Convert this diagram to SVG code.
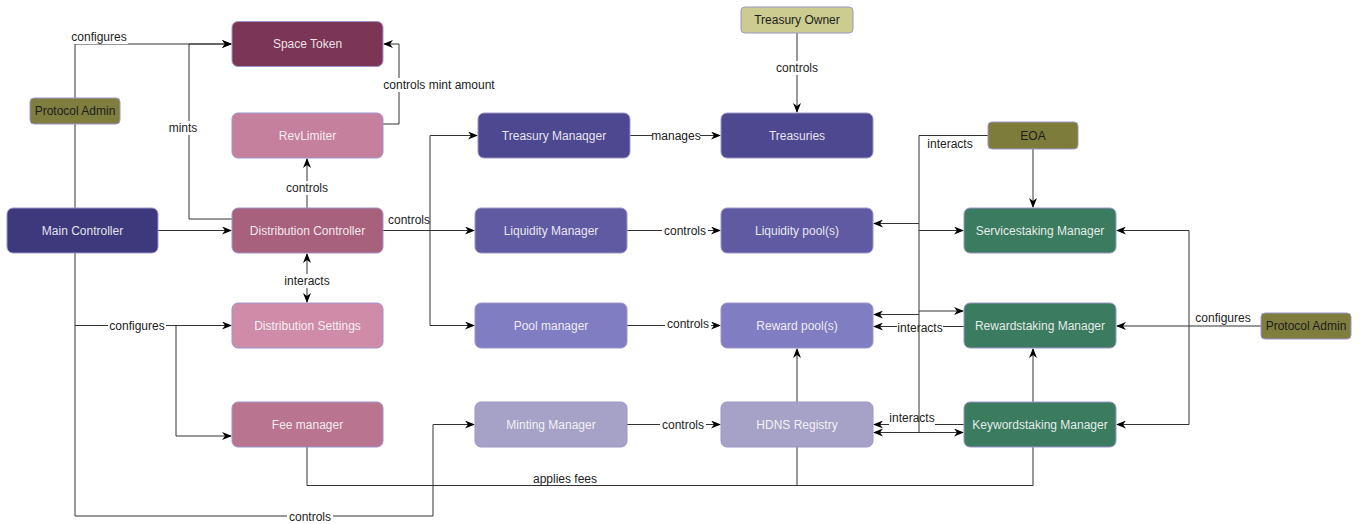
<svg xmlns="http://www.w3.org/2000/svg" width="1360" height="524" viewBox="0 0 1360 524">
<defs>
<marker id="arr" viewBox="0 0 10 8" refX="9" refY="4" markerWidth="10" markerHeight="8" markerUnits="userSpaceOnUse" orient="auto-start-reverse">
<path d="M0,0 L10,4 L0,8 L3,4 z" fill="#000"/>
</marker>
<style>
.n rect{stroke:#9d95c9;stroke-width:1}
.n text{font-family:"Liberation Sans",Arial,sans-serif;font-size:12px;fill:#fff;fill-opacity:.88;text-anchor:middle;dominant-baseline:central}
.n text.dk{fill:#1d1d1d;fill-opacity:1}
.c path{fill:none;stroke:#333;stroke-width:1}
.c path.a{marker-end:url(#arr)}
.c path.b{marker-start:url(#arr);marker-end:url(#arr)}
.l text{font-family:"Liberation Sans",Arial,sans-serif;font-size:12px;fill:#222;text-anchor:middle;dominant-baseline:central}
.l rect{fill:#fff}
</style>
</defs>
<rect width="1360" height="524" fill="#fff"/>
<g class="c" id="connectors">
<path class="a" d="M75,98 V44 H231"/>
<path d="M75,124 V208"/>
<path class="a" d="M158,230.5 H231"/>
<path class="a" d="M232,219 H189 V44 H231"/>
<path class="a" d="M383,124 H399 V44 H384"/>
<path class="a" d="M307,208 V159"/>
<path class="b" d="M307,254 V302"/>
<path class="a" d="M383,230.5 H474"/>
<path class="a" d="M430,230.5 V135.5 H477"/>
<path class="a" d="M430,230.5 V325.5 H474"/>
<path class="a" d="M630,135.5 H720"/>
<path class="a" d="M797,33 V112"/>
<path class="a" d="M627,230.5 H720"/>
<path class="a" d="M627,325.5 H720"/>
<path class="a" d="M627,424.5 H720"/>
<path class="a" d="M797,402 V349"/>
<path class="a" d="M75,253 V516 H433 V424.5 H474"/>
<path class="a" d="M75,325.5 H231"/>
<path class="a" d="M176,325.5 V436 H231"/>
<path d="M307,447 V485.5 H1033 V447"/>
<path d="M797,447 V485.5"/>
<path class="a" d="M964,326.5 H874"/>
<path class="a" d="M964,424.5 H874"/>
<path class="a" d="M1033,149 V207"/>
<path class="a" d="M1033,402 V349"/>
<path class="a" d="M1261,326 H1117"/>
<path class="a" d="M1189,326 V230.5 H1117"/>
<path class="a" d="M1189,326 V424.5 H1117"/>
</g>
<g class="l" id="labels">
<rect x="70" y="30" width="58" height="14"/><text x="99" y="37">configures</text>
<rect x="168" y="121" width="30" height="14"/><text x="183" y="128">mints</text>
<rect x="382" y="78" width="114" height="14"/><text x="439" y="85">controls mint amount</text>
<rect x="284" y="181" width="46" height="14"/><text x="307" y="188">controls</text>
<rect x="284" y="274" width="46" height="14"/><text x="307" y="281">interacts</text>
<text x="409" y="220">controls</text>
<rect x="652" y="129" width="48" height="14"/><text x="676" y="136">manages</text>
<rect x="774" y="61" width="46" height="14"/><text x="797" y="68">controls</text>
<rect x="662" y="224" width="46" height="14"/><text x="685" y="231">controls</text>
<rect x="665" y="317" width="46" height="14"/><text x="688" y="324">controls</text>
<rect x="660" y="418" width="46" height="14"/><text x="683" y="425">controls</text>
<rect x="287" y="510" width="46" height="14"/><text x="310" y="517">controls</text>
<rect x="108" y="319" width="58" height="14"/><text x="137" y="326">configures</text>
<text x="565" y="479">applies fees</text>
<rect x="897" y="321" width="46" height="14"/><text x="920" y="328">interacts</text>
<rect x="889" y="411" width="46" height="14"/><text x="912" y="418">interacts</text>
<text x="950" y="144">interacts</text>
<text x="1223" y="318">configures</text>
</g>
<g class="c" id="connectors-eoa">
<path d="M988,135.5 H919 V432.5"/>
<path class="a" d="M919,223.5 H874"/>
<path class="a" d="M919,230.5 H963"/>
<path class="a" d="M919,311 H963"/>
<path class="a" d="M919,314.5 H874"/>
<path class="b" d="M874,432.5 H963"/>
</g>
<g class="n" id="space-token"><rect x="232" y="21.5" width="151" height="45" rx="6" fill="#7b3656"/><text x="307.5" y="44">Space Token</text></g>
<g class="n" id="revlimiter"><rect x="232" y="113" width="151" height="45" rx="6" fill="#c4809d"/><text x="307.5" y="135.5">RevLimiter</text></g>
<g class="n" id="distribution-controller"><rect x="232" y="208" width="151" height="45" rx="6" fill="#a8617d"/><text x="307.5" y="230.5">Distribution Controller</text></g>
<g class="n" id="main-controller"><rect x="7" y="208" width="151" height="45" rx="6" fill="#3d397c"/><text x="82.5" y="230.5">Main Controller</text></g>
<g class="n" id="protocol-admin-left"><rect x="30" y="98" width="90" height="26" rx="4" fill="#7f7e3f"/><text class="dk" x="75" y="111">Protocol Admin</text></g>
<g class="n" id="distribution-settings"><rect x="232" y="303" width="151" height="45" rx="6" fill="#cf8ca9"/><text x="307.5" y="325.5">Distribution Settings</text></g>
<g class="n" id="fee-manager"><rect x="232" y="402" width="151" height="45" rx="6" fill="#b9758f"/><text x="307.5" y="424.5">Fee manager</text></g>
<g class="n" id="treasury-manager"><rect x="478" y="113" width="152" height="45" rx="6" fill="#4e4890"/><text x="554" y="135.5">Treasury Manaqger</text></g>
<g class="n" id="treasuries"><rect x="721" y="113" width="152" height="45" rx="6" fill="#4e4890"/><text x="797" y="135.5">Treasuries</text></g>
<g class="n" id="treasury-owner"><rect x="741" y="7" width="112" height="26" rx="4" fill="#cbcc8f"/><text class="dk" x="797" y="20">Treasury Owner</text></g>
<g class="n" id="liquidity-manager"><rect x="475" y="208" width="152" height="45" rx="6" fill="#5f5aa2"/><text x="551" y="230.5">Liquidity Manager</text></g>
<g class="n" id="liquidity-pools"><rect x="721" y="208" width="152" height="45" rx="6" fill="#5f5aa2"/><text x="797" y="230.5">Liquidity pool(s)</text></g>
<g class="n" id="pool-manager"><rect x="475" y="303" width="152" height="45" rx="6" fill="#817dc2"/><text x="551" y="325.5">Pool manager</text></g>
<g class="n" id="reward-pools"><rect x="721" y="303" width="152" height="45" rx="6" fill="#817dc2"/><text x="797" y="325.5">Reward pool(s)</text></g>
<g class="n" id="minting-manager"><rect x="475" y="402" width="152" height="45" rx="6" fill="#a6a1c6"/><text x="551" y="424.5">Minting Manager</text></g>
<g class="n" id="hdns-registry"><rect x="721" y="402" width="152" height="45" rx="6" fill="#a6a1c6"/><text x="797" y="424.5">HDNS Registry</text></g>
<g class="n" id="eoa"><rect x="988" y="122" width="90" height="27" rx="4" fill="#7e7c3a"/><text class="dk" x="1033" y="135.5">EOA</text></g>
<g class="n" id="servicestaking-manager"><rect x="964" y="208" width="152" height="45" rx="6" fill="#3b7b5f"/><text x="1040" y="230.5">Servicestaking Manager</text></g>
<g class="n" id="rewardstaking-manager"><rect x="964" y="303" width="152" height="45" rx="6" fill="#3b7b5f"/><text x="1040" y="325.5">Rewardstaking Manager</text></g>
<g class="n" id="keywordstaking-manager"><rect x="964" y="402" width="152" height="45" rx="6" fill="#3b7b5f"/><text x="1040" y="424.5">Keywordstaking Manager</text></g>
<g class="n" id="protocol-admin-right"><rect x="1261" y="313" width="90" height="26" rx="4" fill="#7f7e3f"/><text class="dk" x="1306" y="326">Protocol Admin</text></g>
</svg>
